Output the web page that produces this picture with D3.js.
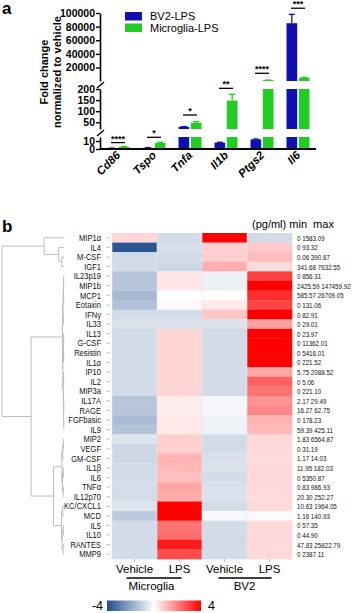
<!DOCTYPE html>
<html><head><meta charset="utf-8">
<script src="https://cdn.jsdelivr.net/npm/d3@7"></script>
<style>body{margin:0;background:#fff}svg{display:block}</style>
</head><body><svg id="c" width="358" height="613"></svg>
<script>
// ---------- Panel a data ----------
const genes = ["Cd86","Tspo","Tnfa","Il1b","Ptgs2","Il6"];
const seriesNames = ["BV2-LPS","Microglia-LPS"];
const bv2Values = [1, 1.5, 30, 8, 12, 85000];
const bv2Errors = [0.2, 0.3, 1, 0.4, 0.5, 13000];
const microgliaValues = [2.5, 7.5, 48, 148, 1500, 5000];
const microgliaErrors = [0.5, 0.8, 5, 28, 60, 500];
const significance = ["****","*","*","**","****","***"];
const significanceLevels = [8, 14.6, 83, 203, 11500, 107000];
const bottomTicks = [0, 10];
const middleTicks = [50, 100, 150, 200];
const upperTicks = [20000, 40000, 60000, 80000, 100000];

// ---------- Panel b data ----------
const cytokines = ["MIP1α","IL4","M-CSF","IGF1","IL23p19","MIP1b","MCP1","Eotaxin","IFNγ","IL33","IL13","G-CSF","Resistin","IL1α","IP10","IL2","MIP3a","IL17A","RAGE","FGFbasic","IL9","MIP2","VEGF","GM-CSF","IL1β","IL6","TNFα","IL12p70","KC/CXCL1","MCD","IL5","IL10","RANTES","MMP9"];
const minValues = ["0","0","0.06","341.68","0","2425.59","585.57","0","0","0","0","0","0","0","5.75","0","0","2.17","16.27","0","59.39","1.83","0","1.17","11.95","0","0.83","20.30","10.63","1.16","0","0","47.83","0"];
const maxValues = ["1583.09","93.32","390.87","7632.55","856.31","147459.92","26709.05","131.06","82.91","29.01","23.97","11362.01","5418.01","221.52","2088.52","5.06","221.10","29.49","62.75","178.23","425.11","6564.87","31.19","14.03","182.03","5350.87","986.93","252.27","1964.05","140.93","57.35","44.90","25822.79","2387.11"];
const conditions = ["Vehicle","LPS","Vehicle","LPS"];
const cellGroups = ["Microglia","BV2"];
const microgliaVehicle = [0.65,-3.8,-0.8,-0.8,-1.3,-1.3,-1.55,-1.4,-0.8,-0.65,-0.8,-0.8,-0.8,-0.8,-0.8,-0.8,-0.8,-1.3,-1.3,-1.5,-1.35,-0.6,-0.9,-0.9,-0.8,-0.8,-0.75,-0.8,-0.6,-1.2,-0.8,-0.8,-0.8,-0.8];
const microgliaLPS = [-0.8,-0.75,-0.8,-0.9,0.4,0.4,0,0.1,-0.8,-0.65,0.65,0.65,0.65,0.65,0.65,0.65,0.65,0.3,0.3,0.35,0.35,0.75,0.75,1.2,1.1,1.0,1.4,1.3,4,4,2.2,2.3,3.6,2.8];
const bv2Vehicle = [4,0.75,0.75,1.3,-0.35,-0.35,0.05,0.35,0.9,-0.65,-0.8,-0.8,-0.8,-0.8,-0.8,-0.8,-0.8,-0.2,-0.2,-0.3,-0.3,-0.8,-0.8,-0.7,-0.65,-0.8,-0.7,-0.65,-0.8,-0.15,-0.8,-0.8,-0.8,-0.8];
const bv2LPS = [-0.8,0.85,1.05,0.55,3,4,3.3,2.9,4,1.5,4,4,4,4,1.4,2.5,2.2,1.7,1.9,1.2,1.1,0.6,0.6,0.55,0.6,0.6,0.6,0.55,0.6,-0.1,0.6,0.6,0.6,0.6];
const colorDomain = [-4, 0, 4];
// dendrogram: [mergeHeight, left, right]
const dendrogram = [10,
  [3.2, "MIP1α", [0.85, "IL4", [0.35, "M-CSF", "IGF1"]]],
  [5.3,
    [0.25,
      [0.15, [0.08, [0.05, "IL23p19", "MIP1b"], [0.05, "MCP1", "Eotaxin"]], [0.1, "IFNγ", "IL33"]],
      [0.2, [0.1, [0.05, "IL13", "G-CSF"], [0.05, "Resistin", "IL1α"]],
            [0.12, [0.06, "IP10", "IL2"], [0.08, "MIP3a", [0.06, [0.03, "IL17A", "RAGE"], [0.03, "FGFbasic", "IL9"]]]]]],
    [1.7,
      [0.35, [0.2, [0.1, "MIP2", "VEGF"], "GM-CSF"], [0.25, [0.1, "IL1β", "IL6"], [0.12, "TNFα", "IL12p70"]]],
      [0.4, [0.2, "KC/CXCL1", "MCD"], [0.3, [0.1, "IL5", "IL10"], [0.15, "RANTES", "MMP9"]]]]]
];

const FONT = "'Liberation Sans', Arial, sans-serif";
const BLUE = "#1010b0", GREEN = "#22cc22";
const svg = d3.select("#c");

// ================= Panel a =================
svg.append("text").attr("x", 2).attr("y", 14).attr("font-family", FONT).attr("font-weight", "bold").attr("font-size", 17).text("a");

const x0 = d3.scaleBand().domain(genes).range([100, 316]);
const x1 = d3.scaleBand().domain(seriesNames).range([-11.5, 11.5]).paddingInner(0.13);
const segs = [
  {domain: [0, 15], range: [149, 137], ticks: bottomTicks},
  {domain: [20, 200], range: [129, 89], ticks: middleTicks},
  {domain: [200, 100000], range: [81, 13], ticks: upperTicks}
];
segs.forEach(s => s.scale = d3.scaleLinear().domain(s.domain).range(s.range));
function yb(v) {
  if (v <= 15) return segs[0].scale(v);
  if (v <= 210) return segs[1].scale(v);
  return segs[2].scale(v);
}
const series = [
  {name: seriesNames[0], values: bv2Values, errors: bv2Errors, color: BLUE},
  {name: seriesNames[1], values: microgliaValues, errors: microgliaErrors, color: GREEN}
];
const ga = svg.append("g");
series.forEach(s => {
  genes.forEach((g, i) => {
    const v = s.values[i];
    const bx = x0(g) + x0.bandwidth() / 2 + x1(s.name);
    segs.forEach(seg => {
      if (v > seg.domain[0]) {
        const top = seg.scale(Math.min(v, seg.domain[1]));
        const bot = seg.scale(seg.domain[0]);
        ga.append("rect").attr("x", bx).attr("width", x1.bandwidth())
          .attr("y", top).attr("height", Math.max(bot - top, 0.8)).attr("fill", s.color);
      }
    });
    const cx = bx + x1.bandwidth() / 2;
    const ey = yb(v + s.errors[i]);
    ga.append("line").attr("x1", cx).attr("x2", cx).attr("y1", yb(v)).attr("y2", ey).attr("stroke", s.color).attr("stroke-width", 1.3);
    ga.append("line").attr("x1", cx - 3).attr("x2", cx + 3).attr("y1", ey).attr("y2", ey).attr("stroke", s.color).attr("stroke-width", 1.3);
  });
});
// significance
genes.forEach((g, i) => {
  const cx = x0(g) + x0.bandwidth() / 2;
  const y = yb(significanceLevels[i]);
  ga.append("line").attr("x1", cx - 7).attr("x2", cx + 7).attr("y1", y).attr("y2", y).attr("stroke", "#000").attr("stroke-width", 1.3);
  ga.append("text").attr("x", cx).attr("y", y - 1).attr("text-anchor", "middle")
    .attr("font-family", FONT).attr("font-weight", "bold").attr("font-size", 9).text(significance[i]);
});
// y axes
segs.forEach(seg => {
  const ax = svg.append("g").attr("transform", "translate(100,0)")
    .call(d3.axisLeft(seg.scale).tickValues(seg.ticks).tickSize(4).tickSizeOuter(0).tickFormat(d3.format("d")));
  ax.select(".domain").attr("stroke-width", 1.6);
  ax.selectAll(".tick line").attr("stroke-width", 1.4);
  ax.selectAll("text").attr("font-family", FONT).attr("font-weight", "bold").attr("font-size", 10.5).attr("x", -5);
});
// break marks
[[137, 129], [89, 81]].forEach(([a, b]) => {
  const m = (a + b) / 2;
  svg.append("line").attr("x1", 97).attr("x2", 104).attr("y1", m + 3).attr("y2", m - 3).attr("stroke", "#000").attr("stroke-width", 1.4);
});
// x axis
svg.append("line").attr("x1", 100).attr("x2", 316).attr("y1", 149).attr("y2", 149).attr("stroke", "#000").attr("stroke-width", 1.8);
genes.forEach(g => {
  const cx = x0(g) + x0.bandwidth() / 2 + 3;
  svg.append("text").attr("transform", `translate(${cx},156) rotate(-45)`).attr("text-anchor", "end")
    .attr("font-family", FONT).attr("font-weight", "bold").attr("font-style", "italic").attr("font-size", 11.5).text(g);
});
// y title
const yt = svg.append("text").attr("transform", "translate(48,72) rotate(-90)").attr("text-anchor", "middle")
  .attr("font-family", FONT).attr("font-weight", "bold").attr("font-size", 11);
yt.append("tspan").attr("x", 0).attr("dy", 0).text("Fold change");
yt.append("tspan").attr("x", 0).attr("dy", 12.5).text("normalized to vehicle");
// legend
series.forEach((s, i) => {
  svg.append("rect").attr("x", 125).attr("y", 12 + i * 11.5).attr("width", 17).attr("height", 8.5).attr("fill", s.color);
  svg.append("text").attr("x", 150).attr("y", 20 + i * 11.5).attr("font-family", FONT).attr("font-size", 11).text(s.name);
});

// ================= Panel b =================
svg.append("text").attr("x", 2).attr("y", 232).attr("font-family", FONT).attr("font-weight", "bold").attr("font-size", 17).text("b");

const yRow = d3.scaleBand().domain(cytokines).range([233, 559]);
const colKeys = [0, 1, 2, 3];
const xCol = d3.scaleBand().domain(colKeys).range([112, 292]);
const color = d3.scaleLinear().domain(colorDomain).range(["#1f4e8c", "#ffffff", "#ff0000"]).clamp(true);
const columns = [microgliaVehicle, microgliaLPS, bv2Vehicle, bv2LPS];
const gb = svg.append("g");
columns.forEach((col, j) => {
  cytokines.forEach((c, i) => {
    gb.append("rect").attr("x", xCol(j)).attr("y", yRow(c)).attr("width", xCol.bandwidth() + 0.3)
      .attr("height", yRow.bandwidth() + 0.3).attr("fill", color(col[i]));
  });
});
colKeys.forEach(j => {
  gb.append("line").attr("x1", xCol(j)).attr("x2", xCol(j)).attr("y1", 233).attr("y2", 559).attr("stroke", "#e6e6e6").attr("stroke-width", 0.6);
});
// row labels + ticks + min/max (narrowed text)
cytokines.forEach((c, i) => {
  const cy = yRow(c) + yRow.bandwidth() / 2;
  svg.append("text").attr("transform", `translate(101,${cy + 3.2}) scale(0.84,1)`).attr("text-anchor", "end")
    .attr("font-family", FONT).attr("font-size", 9).attr("fill", "#111").text(c);
  svg.append("line").attr("x1", 107).attr("x2", 110).attr("y1", cy).attr("y2", cy).attr("stroke", "#aaa").attr("stroke-width", 0.8);
  svg.append("text").attr("transform", `translate(297,${cy + 3}) scale(0.8,1)`).attr("font-family", FONT).attr("font-size", 7.8)
    .attr("fill", "#111").text(minValues[i] + " " + maxValues[i]);
});
svg.append("text").attr("x", 252).attr("y", 228).attr("font-family", FONT).attr("font-size", 11)
  .attr("xml:space", "preserve").text("(pg/ml) min  max");
// column labels
colKeys.forEach(j => {
  const cx = xCol(j) + xCol.bandwidth() / 2;
  svg.append("line").attr("x1", cx).attr("x2", cx).attr("y1", 559).attr("y2", 562).attr("stroke", "#aaa").attr("stroke-width", 0.8);
  svg.append("text").attr("x", cx).attr("y", 573).attr("text-anchor", "middle").attr("font-family", FONT).attr("font-size", 11.5).text(conditions[j]);
});
cellGroups.forEach((g, k) => {
  const a = xCol(k * 2) + xCol.bandwidth() / 2 - 7, b = xCol(k * 2 + 1) + xCol.bandwidth() / 2 + 2;
  svg.append("line").attr("x1", a + (k ? 1 : -1)).attr("x2", b).attr("y1", 578).attr("y2", 578).attr("stroke", "#000").attr("stroke-width", 1.3);
  svg.append("text").attr("x", (a + b) / 2 - (k ? 0 : 3)).attr("y", 590).attr("text-anchor", "middle").attr("font-family", FONT).attr("font-size", 11.5).text(g);
});
// colorbar
const cbx = d3.scaleLinear().domain([colorDomain[0], colorDomain[2]]).range([107, 201]);
const grad = svg.append("defs").append("linearGradient").attr("id", "cb");
d3.range(0, 1.0001, 0.125).forEach(t => {
  const v = colorDomain[0] + t * (colorDomain[2] - colorDomain[0]);
  grad.append("stop").attr("offset", t).attr("stop-color", color(v));
});
svg.append("rect").attr("x", cbx(-4)).attr("y", 600.5).attr("width", cbx(4) - cbx(-4)).attr("height", 10.5).attr("fill", "url(#cb)");
svg.append("text").attr("x", cbx(-4) - 4).attr("y", 609.5).attr("text-anchor", "end").attr("font-family", FONT).attr("font-size", 12.5).text(colorDomain[0]);
svg.append("text").attr("x", cbx(4) + 7).attr("y", 609.5).attr("font-family", FONT).attr("font-size", 12.5).text(colorDomain[2]);

// dendrogram
function build(n) {
  if (typeof n === "string") return {name: n, h: 0};
  return {h: n[0], children: [build(n[1]), build(n[2])]};
}
const root = d3.hierarchy(build(dendrogram));
const dx = d3.scaleLinear().domain([0, 10]).range([64, 2]);
root.eachAfter(n => {
  n.px = dx(n.data.h);
  n.py = n.children ? d3.mean(n.children, c => c.py) : yRow(n.data.name) + yRow.bandwidth() / 2;
});
const gd = svg.append("g").attr("stroke", "#bdbdbd").attr("stroke-width", 1).attr("fill", "none");
root.each(n => {
  if (!n.children) return;
  gd.append("line").attr("x1", n.px).attr("x2", n.px).attr("y1", n.children[0].py).attr("y2", n.children[1].py);
  n.children.forEach(c => {
    gd.append("line").attr("x1", n.px).attr("x2", c.px).attr("y1", c.py).attr("y2", c.py);
  });
});
</script></body></html>
